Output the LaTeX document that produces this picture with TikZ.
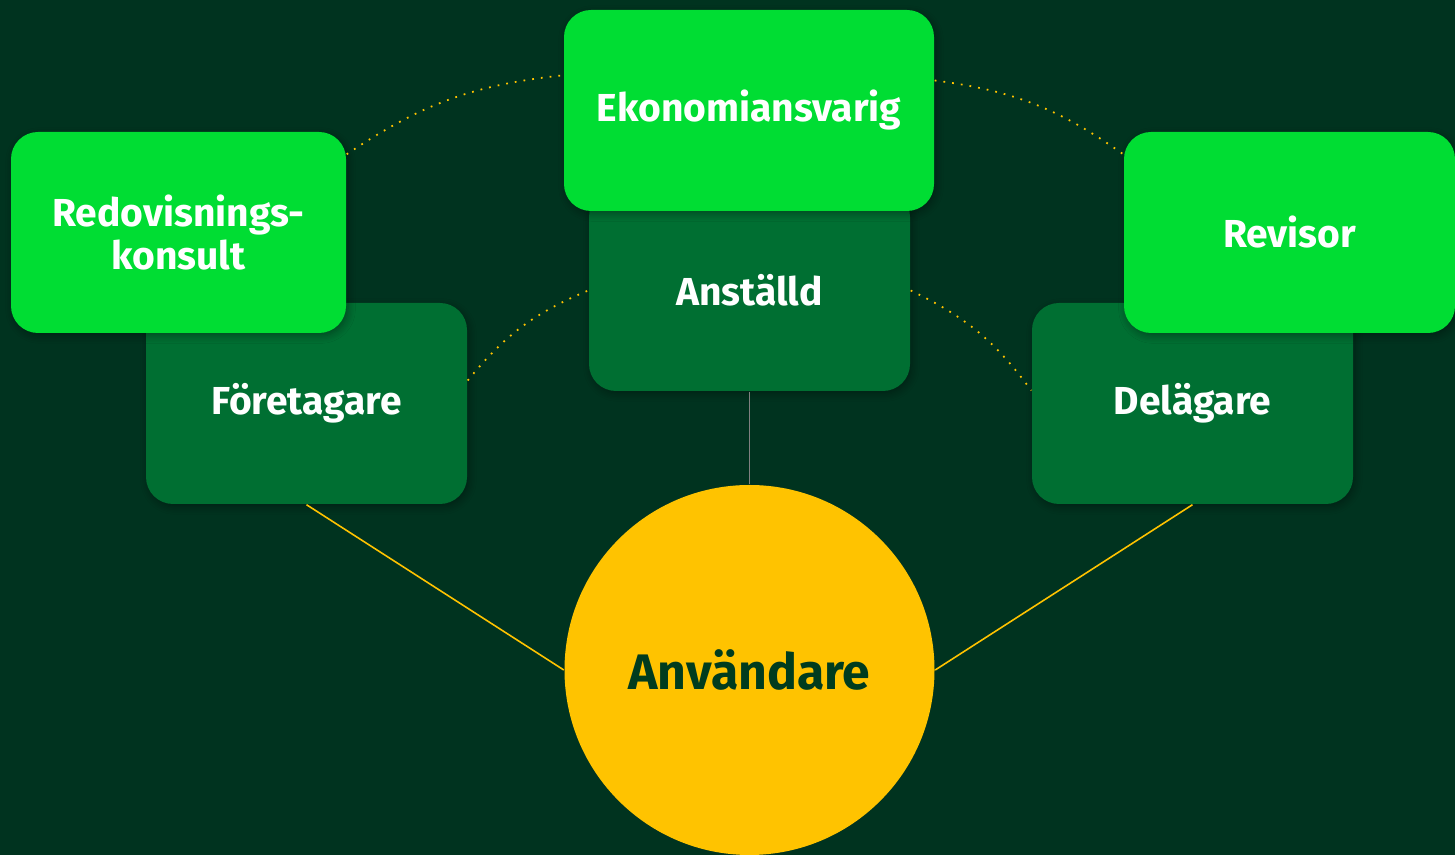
\documentclass[tikz,border=0pt]{standalone}
\usepackage{fontspec}
\setmainfont{Fira Sans}
\usetikzlibrary{shadows.blur}
\definecolor{bgdark}{HTML}{00331F}
\definecolor{boxdark}{HTML}{006F32}
\definecolor{boxlight}{HTML}{00DD33}
\definecolor{sun}{HTML}{FFC300}
\definecolor{txtdark}{HTML}{003C1E}
\begin{document}
\begin{tikzpicture}
    \tikzset{role/.style = {shape=rectangle, rounded corners=0.27cm, minimum height=2.01cm, inner sep=0pt,
        text=white, align=center, font=\bfseries\fontsize{11.1}{12.3}\selectfont,
        blur shadow={shadow xshift=0.02cm, shadow yshift=-0.03cm, shadow blur steps=6, shadow opacity=35}}}
    \tikzset{inner/.style = {role, fill=boxdark, minimum width=3.21cm}}
    \tikzset{outer/.style = {role, fill=boxlight}}
    \tikzset{link/.style = {draw=sun, line width=0.45pt}}
    \tikzset{ring/.style = {draw=sun, dotted, line width=0.5pt, bend left=14}}
    \fill[bgdark] (0,0) rectangle (14.55,8.55);
    \useasboundingbox (0,0) rectangle (14.55,8.55);
    \node[circle, fill=sun, minimum size=3.7cm, inner sep=0pt, text=txtdark,
        font=\bfseries\fontsize{14.2}{16}\selectfont] (anv) at (7.495,1.85) {Användare};
    \node[inner] (anst) at (7.495,5.645) {Anställd};
    \node[outer, minimum width=3.70cm] (eko) at (7.49,7.445) {Ekonomiansvarig};
    \node[inner] (for) at (3.065,4.515) {Företagare};
    \node[outer, minimum width=3.35cm] (reko) at (1.785,6.225) {Redovisnings-\\konsult};
    \node[inner] (del) at (11.925,4.515) {Delägare};
    \node[outer, minimum width=3.31cm] (rev) at (12.895,6.225) {Revisor};
    \draw[link] (for.south) -- (anv.west);
    \draw[link] (del.south) -- (anv.east);
    \draw[draw=gray, line width=0.5pt] (anst.south) -- (anv.north);
    \draw[ring] ([yshift=-0.23cm]reko.north east) to ([yshift=-0.66cm]eko.north west);
    \draw[ring] ([yshift=0.3cm]eko.east) to ([yshift=-0.23cm]rev.north west);
    \draw[ring] ([yshift=0.23cm]for.east) to (anst.west);
    \draw[ring] (anst.east) to ([yshift=0.13cm]del.west);
\end{tikzpicture}
\end{document}
